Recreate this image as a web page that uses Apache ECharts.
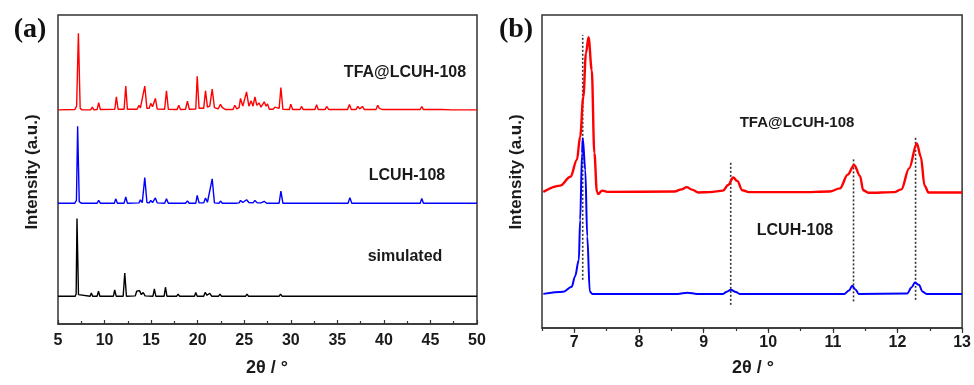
<!DOCTYPE html>
<html>
<head>
<meta charset="utf-8">
<script src="https://cdn.jsdelivr.net/npm/echarts@6/dist/echarts.min.js"></script>
<style>html,body{margin:0;padding:0;background:#fff}#c{width:974px;height:385px}</style>
</head>
<body>
<div id="c"></div>
<script>
// ---------- Panel (a): full PXRD patterns, 2θ 5–50 (offset stacked, arbitrary units) ----------
const aTicks = [5, 10, 15, 20, 25, 30, 35, 40, 45, 50];
const aTFA = [
[5.0,69.3],[6.8,69.4],[7.0,70.5],[7.19,94.1],[7.38,69.8],[7.6,69.3],
[8.5,69.3],[8.69,70.2],[8.85,69.3],
[9.2,69.4],[9.37,71.6],[9.55,69.4],
[11.1,69.5],[11.27,73.5],[11.45,69.5],
[12.1,69.5],[12.28,77.0],[12.45,69.5],
[13.5,69.5],[13.7,70.8],[13.85,69.9],[14.0,70.2],[14.32,77.0],[14.55,69.8],
[14.8,69.8],[14.96,71.4],[15.15,70.3],[15.46,73.0],[15.65,69.6],
[16.45,69.5],[16.65,75.5],[16.85,69.5],
[17.8,69.4],[17.97,70.8],[18.15,69.4],
[18.7,69.5],[18.9,72.1],[19.1,69.5],
[19.8,69.6],[19.95,80.2],[20.15,69.8],
[20.65,69.8],[20.84,75.5],[21.05,70.2],[21.3,70.5],[21.56,76.0],[21.8,70.0],
[22.2,69.6],[22.45,71.1],[22.65,70.0],[22.8,70.5],[23.0,69.4],
[23.8,69.4],[23.99,70.8],[24.2,69.6],[24.45,70.0],[24.6,73.0],[24.85,70.5],[25.05,71.0],[25.25,75.1],[25.5,70.5],
[25.75,72.2],[25.95,70.5],[26.15,73.5],[26.35,70.8],[26.6,71.5],[26.8,70.2],[27.15,71.9],[27.35,70.5],[27.5,71.2],[27.7,69.5],
[28.1,69.5],[28.3,70.2],[28.5,69.6],[28.75,69.8],[28.94,76.5],[29.15,69.5],
[29.85,69.4],[30.0,71.1],[30.2,69.4],
[31.0,69.4],[31.15,70.4],[31.35,69.4],
[32.6,69.4],[32.77,71.0],[32.95,69.4],
[33.7,69.4],[33.85,70.4],[34.1,69.4],
[36.1,69.4],[36.3,71.0],[36.5,69.4],
[37.0,69.4],[37.2,70.4],[37.4,69.6],[37.7,70.4],[37.9,69.4],
[39.15,69.4],[39.34,70.8],[39.5,69.8],[39.7,70.2],[39.9,69.4],
[40.6,69.4],[40.8,69.9],[41.0,69.4],
[42.2,69.4],[42.4,69.8],[42.6,69.4],
[43.9,69.4],[44.07,70.4],[44.25,69.4],
[45.8,69.4],[46.0,69.9],[46.2,69.4],
[47.3,69.3],[47.5,69.6],[47.7,69.3],
[48.6,69.3],[48.8,69.5],[49.0,69.3],[50.0,69.3]
];
const aLCUH = [
[5.0,39.1],[6.8,39.1],[6.98,40.0],[7.11,64.0],[7.28,39.6],[7.5,39.1],
[9.2,39.1],[9.37,40.0],[9.55,39.1],
[11.05,39.1],[11.2,40.5],[11.38,39.1],
[12.1,39.1],[12.28,41.1],[12.45,39.1],
[13.7,39.2],[13.85,40.2],[14.05,39.3],[14.32,47.4],[14.55,39.3],
[14.8,39.2],[14.96,40.0],[15.15,39.3],[15.46,40.8],[15.65,39.2],
[16.45,39.1],[16.65,40.5],[16.85,39.1],
[17.8,39.1],[17.97,39.7],[18.15,39.1],
[18.7,39.1],[18.9,39.8],[19.1,39.1],
[19.8,39.1],[19.95,41.6],[20.15,39.2],
[20.65,39.2],[20.84,40.8],[21.05,39.4],[21.56,47.0],[21.8,39.2],
[22.3,39.1],[22.45,39.8],[22.65,39.1],
[23.8,39.1],[23.99,39.7],[24.2,39.1],[24.45,39.2],[24.6,40.0],[24.85,39.3],[25.05,39.4],[25.25,40.2],[25.5,39.3],
[25.95,39.2],[26.15,40.0],[26.4,39.2],[26.6,39.5],[26.8,39.2],[27.15,39.7],[27.4,39.1],
[28.75,39.1],[28.94,43.0],[29.15,39.1],
[29.85,39.1],[30.0,39.7],[30.2,39.1],
[31.0,39.1],[31.15,39.6],[31.35,39.1],
[32.6,39.1],[32.77,39.6],[32.95,39.1],
[34.0,39.1],[34.1,39.4],[34.3,39.1],
[36.15,39.1],[36.35,40.9],[36.55,39.1],
[37.5,39.1],[37.7,39.4],[37.9,39.1],
[39.2,39.1],[39.34,39.7],[39.5,39.1],
[40.8,39.1],[41.0,39.3],[41.2,39.1],
[43.9,39.1],[44.07,40.6],[44.25,39.1],
[46.0,39.1],[46.2,39.3],[46.4,39.1],[50.0,39.1]
];
const aSim = [
[5.0,9.0],[6.85,9.0],[6.95,9.8],[7.04,34.1],[7.2,9.5],[7.4,9.0],
[8.45,9.0],[8.58,10.05],[8.72,9.0],
[9.2,9.0],[9.35,10.6],[9.5,9.0],
[10.95,9.0],[11.09,11.0],[11.25,9.0],
[12.0,9.0],[12.17,16.5],[12.35,9.0],
[13.3,9.1],[13.45,10.6],[13.6,10.2],[13.75,10.8],[13.95,9.5],[14.15,10.2],[14.35,9.1],
[15.2,9.0],[15.35,11.35],[15.5,9.0],
[16.4,9.0],[16.54,11.9],[16.7,9.0],
[17.75,9.0],[17.9,9.7],[18.05,9.0],
[19.65,9.0],[19.8,10.2],[19.95,9.0],
[20.65,9.0],[20.8,10.2],[21.0,9.3],[21.3,9.95],[21.5,9.0],
[22.25,9.0],[22.4,9.7],[22.55,9.0],
[24.45,9.0],[24.6,9.5],[24.75,9.0],[25.15,9.0],[25.3,9.7],[25.45,9.0],
[25.95,9.0],[26.1,9.5],[26.25,9.0],
[27.05,9.0],[27.2,9.5],[27.35,9.0],
[28.75,9.0],[28.9,9.7],[29.05,9.0],
[29.85,9.0],[30.0,9.5],[30.15,9.0],
[31.25,9.0],[31.4,9.3],[31.55,9.0],
[33.45,9.0],[33.6,9.3],[33.75,9.0],
[35.85,9.0],[36.0,9.2],[36.15,9.0],
[38.95,9.0],[39.1,9.5],[39.25,9.0],[50.0,9.0]
];

// ---------- Panel (b): zoom 2θ 6.5–13 ----------
const bTicks = [7, 8, 9, 10, 11, 12, 13];
const bTFA = [
[6.52,43.5],[6.78,45.5],[6.94,48.3],[7.04,53.7],[7.09,61.1],[7.14,73.9],[7.18,87.8],[7.22,92.9],
[7.27,82.4],[7.31,55.9],[7.35,43.5],[7.37,42.8],[7.43,43.9],[7.51,43.5],
[8.55,43.6],[8.66,44.3],[8.74,45.0],[8.82,44.2],[8.92,43.3],[9.1,43.4],
[9.3,43.9],[9.38,45.7],[9.46,48.1],[9.52,47.0],[9.6,44.0],[9.7,43.4],
[10.5,43.4],[10.95,43.6],[11.11,44.6],[11.23,49.0],[11.33,52.1],[11.42,48.6],[11.47,44.0],[11.55,43.2],
[11.95,43.4],[12.06,44.3],[12.18,51.0],[12.3,59.0],[12.36,54.8],[12.42,45.5],[12.48,43.3],[13.0,43.3]
];
const bLCUH = [
[6.52,10.9],[6.83,11.6],[6.96,13.2],[7.01,16.4],[7.07,21.7],[7.09,34.5],[7.12,55.9],[7.13,60.6],
[7.17,50.5],[7.20,29.2],[7.24,11.6],[7.28,10.9],
[8.6,10.9],[8.75,11.3],[8.9,10.9],
[9.3,10.9],[9.36,11.6],[9.42,12.2],[9.5,11.5],[9.56,10.9],
[11.18,10.9],[11.25,12.0],[11.3,13.5],[11.35,12.3],[11.4,10.9],
[12.15,11.0],[12.22,13.0],[12.27,14.5],[12.33,13.8],[12.39,11.6],[12.45,10.9],[13.0,10.9]
];
// dotted reference lines: position, upper end, lower end
const bDashX = [7.13, 9.42, 11.32, 12.28];
const bDashTop = [93.6, 52.9, 53.9, 61.4];
const bDashBottom = [15.4, 7.4, 8.5, 9.0];

const FONT = "'Liberation Sans', Arial, sans-serif";
const chart = echarts.init(document.getElementById('c'), null, {renderer: 'canvas'});

const dashSeries = bDashX.map((x, i) => ({
  type: 'line', xAxisIndex: 1, yAxisIndex: 1, symbol: 'none', silent: true, z: 3,
  lineStyle: {color: '#333', width: 1.6, type: [2, 2]},
  data: [[x, bDashBottom[i]], [x, bDashTop[i]]]
}));

function txt(text, x, y, size, opts) {
  opts = opts || {};
  return {
    type: 'text', x: x, y: y, rotation: opts.rot || 0, z: 100,
    style: {
      text: text, fill: opts.color || '#1a1a1a',
      font: (opts.font || ('bold ' + size + 'px ' + FONT)),
      align: 'center', verticalAlign: 'middle',
      textAlign: 'center', textVerticalAlign: 'middle'
    }
  };
}

const axisLabelStyle = {color: '#1a1a1a', fontFamily: FONT, fontWeight: 'bold', fontSize: 16};

chart.setOption({
  animation: false,
  backgroundColor: '#fff',
  grid: [
    {left: 58, top: 15, width: 419, height: 309, show: true, borderColor: '#333', borderWidth: 1.5, backgroundColor: 'transparent'},
    {left: 542, top: 15, width: 421, height: 313, show: true, borderColor: '#333', borderWidth: 1.5, backgroundColor: 'transparent'}
  ],
  xAxis: [
    {type: 'value', gridIndex: 0, min: aTicks[0], max: aTicks[aTicks.length - 1], interval: 5, position: 'bottom',
     axisLine: {show: true, lineStyle: {color: '#333', width: 1.5}},
     axisTick: {show: true, inside: true, length: 4, lineStyle: {color: '#333', width: 1.2}},
     minorTick: {show: true, splitNumber: 2, length: 3, lineStyle: {color: '#333', width: 1.2}},
     axisLabel: Object.assign({margin: 9}, axisLabelStyle),
     splitLine: {show: false}},
    {type: 'value', gridIndex: 1, min: 6.5, max: bTicks[bTicks.length - 1], splitNumber: 6, position: 'bottom',
     axisLine: {show: true, lineStyle: {color: '#333', width: 1.5}},
     axisTick: {show: true, inside: false, length: 5, lineStyle: {color: '#333', width: 1.2}},
     axisLabel: Object.assign({margin: 7, showMinLabel: false,
       formatter: v => (bTicks.indexOf(v) >= 0 ? String(v) : '')}, axisLabelStyle),
     splitLine: {show: false}},
    {type: 'value', gridIndex: 1, min: 6.5, max: 13, interval: 0.5, position: 'bottom',
     axisLine: {show: false},
     axisTick: {show: true, inside: false, length: 3, lineStyle: {color: '#333', width: 1.2}},
     axisLabel: {show: false}, splitLine: {show: false}}
  ],
  yAxis: [
    {type: 'value', gridIndex: 0, min: 0, max: 100, axisLine: {show: false}, axisTick: {show: false}, axisLabel: {show: false}, splitLine: {show: false}},
    {type: 'value', gridIndex: 1, min: 0, max: 100, axisLine: {show: false}, axisTick: {show: false}, axisLabel: {show: false}, splitLine: {show: false}}
  ],
  series: [
    {type: 'line', name: 'TFA@LCUH-108', xAxisIndex: 0, yAxisIndex: 0, symbol: 'none', data: aTFA, lineStyle: {color: '#ff0000', width: 1.4}},
    {type: 'line', name: 'LCUH-108', xAxisIndex: 0, yAxisIndex: 0, symbol: 'none', data: aLCUH, lineStyle: {color: '#0000ff', width: 1.4}},
    {type: 'line', name: 'simulated', xAxisIndex: 0, yAxisIndex: 0, symbol: 'none', data: aSim, lineStyle: {color: '#000000', width: 1.4}},
    {type: 'line', name: 'TFA@LCUH-108 (b)', xAxisIndex: 1, yAxisIndex: 1, symbol: 'none', smooth: 0.35, smoothMonotone: 'x', data: bTFA, lineStyle: {color: '#ff0000', width: 2.4}, z: 4},
    {type: 'line', name: 'LCUH-108 (b)', xAxisIndex: 1, yAxisIndex: 1, symbol: 'none', smooth: 0.35, smoothMonotone: 'x', data: bLCUH, lineStyle: {color: '#0000ff', width: 2}, z: 4}
  ].concat(dashSeries),
  graphic: [
    txt('(a)', 30, 30, 27, {font: "bold 28px 'Liberation Serif', 'Times New Roman', serif", color: '#111'}),
    txt('(b)', 516, 30, 27, {font: "bold 28px 'Liberation Serif', 'Times New Roman', serif", color: '#111'}),
    txt('Intensity (a.u.)', 32, 172, 17, {rot: Math.PI / 2}),
    txt('Intensity (a.u.)', 516, 172, 17, {rot: Math.PI / 2}),
    txt('2θ / °', 267, 368, 18),
    txt('2θ / °', 753, 368, 18),
    txt('TFA@LCUH-108', 405, 73, 16),
    txt('LCUH-108', 407, 176, 16),
    txt('simulated', 405, 257, 16),
    txt('TFA@LCUH-108', 797, 123, 15),
    txt('LCUH-108', 795, 231, 16)
  ]
});
</script>
</body>
</html>
